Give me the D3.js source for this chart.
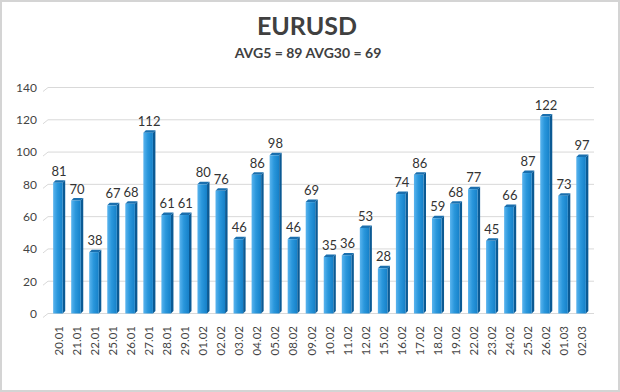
<!DOCTYPE html>
<html><head><meta charset="utf-8">
<script src="https://cdn.jsdelivr.net/npm/d3@7"></script>
<style>
html,body{margin:0;padding:0;background:#fff;}
svg{display:block;}
</style></head>
<body>
<svg id="chart" width="620" height="392"></svg>
<script>
const categories = ["20.01","21.01","22.01","25.01","26.01","27.01","28.01","29.01","01.02","02.02","03.02","04.02","05.02","08.02","09.02","10.02","11.02","12.02","15.02","16.02","17.02","18.02","19.02","22.02","23.02","24.02","25.02","26.02","01.03","02.03"];
const values = [81,70,38,67,68,112,61,61,80,76,46,86,98,46,69,35,36,53,28,74,86,59,68,77,45,66,87,122,73,97];
const yTicks = [0,20,40,60,80,100,120,140];
const title = "EURUSD";
const subtitle = "AVG5 = 89 AVG30 = 69";

const svg = d3.select("#chart");
const W = 620, H = 392;
const font = "Lato, 'Open Sans', sans-serif";

svg.append("rect").attr("x",1).attr("y",1).attr("width",W-2).attr("height",H-2)
  .attr("fill","#fff").attr("stroke","#d4d4d4").attr("stroke-width",2);

const x = d3.scaleBand().domain(categories).range([49, 590]).paddingInner(0.47).paddingOuter(0.23);
const y = d3.scaleLinear().domain([0,140]).range([313.5, 87.5]);

const defs = svg.append("defs");
const g = defs.append("linearGradient").attr("id","barg").attr("x1","0").attr("x2","1").attr("y1","0").attr("y2","0");
g.append("stop").attr("offset","0%").attr("stop-color","#5ab4ee");
g.append("stop").attr("offset","45%").attr("stop-color","#2a97dc");
g.append("stop").attr("offset","100%").attr("stop-color","#1580c8");

// gridlines
const gx0 = 48, gx1 = 594;
const grid = svg.append("g");
yTicks.forEach(t => {
  grid.append("path")
    .attr("d", `M${gx0-5},${y(t)+4} L${gx0},${y(t)} L${gx1},${y(t)}`)
    .attr("fill","none").attr("stroke","#d9d9d9").attr("stroke-width",1);
});

// y labels
const yAxis = d3.axisLeft(y).tickValues(yTicks).tickSize(0).tickPadding(0);
const ya = svg.append("g").attr("transform","translate(37,0)").call(yAxis);
ya.select(".domain").remove();
ya.selectAll("text").attr("font-family",font).attr("font-size",12).attr("fill","#444");

// bars
const dx = 2.5, dy = 2.5;
const bars = svg.append("g");
values.forEach((v,i) => {
  const c = categories[i];
  const bx = x(c), bw = x.bandwidth(), by = y(v), bb = y(0);
  bars.append("path")
    .attr("d", `M${bx+bw},${by} L${bx+bw+dx},${by-dy} L${bx+bw+dx},${bb-dy} L${bx+bw},${bb} Z`)
    .attr("fill","#0b5a94");
  bars.append("path")
    .attr("d", `M${bx},${by} L${bx+dx},${by-dy} L${bx+bw+dx},${by-dy} L${bx+bw},${by} Z`)
    .attr("fill","#1a6fae");
  bars.append("rect").attr("x",bx).attr("y",by).attr("width",bw).attr("height",bb-by)
    .attr("fill","url(#barg)");
  bars.append("text").attr("x",bx+bw/2+1).attr("y",by-7)
    .attr("text-anchor","middle").attr("font-family",font).attr("font-size",13)
    .attr("fill","#333").text(v);
});

// x labels
const xa = svg.append("g").attr("transform","translate(0,326)");
categories.forEach(c => {
  xa.append("text")
    .attr("transform",`translate(${x(c)+x.bandwidth()/2+1},0) rotate(-90)`)
    .attr("text-anchor","end").attr("dy","0.35em")
    .attr("font-family",font).attr("font-size",11.5).attr("fill","#444").text(c);
});

svg.append("text").attr("x",307).attr("y",35).attr("text-anchor","middle")
  .attr("font-family",font).attr("font-weight","bold").attr("font-size",25).attr("fill","#404040").text(title);
svg.append("text").attr("x",308).attr("y",58).attr("text-anchor","middle")
  .attr("font-family",font).attr("font-weight","bold").attr("font-size",14).attr("fill","#404040").text(subtitle);
</script>
</body></html>
